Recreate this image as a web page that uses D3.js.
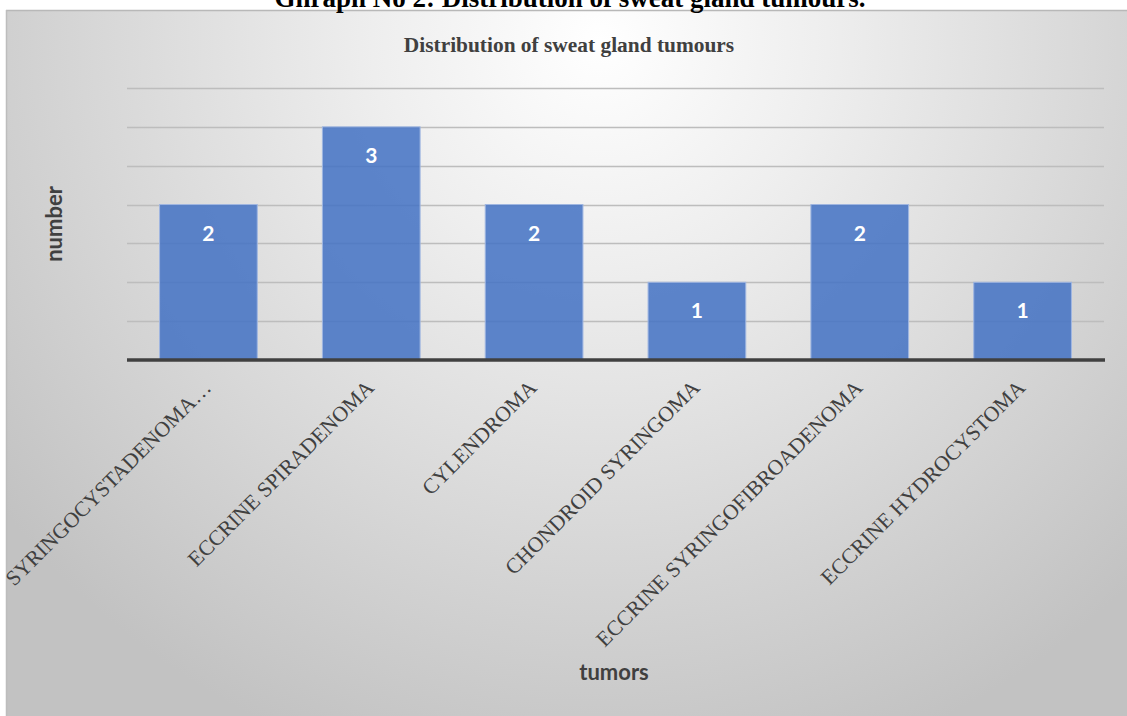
<!DOCTYPE html>
<html>
<head>
<meta charset="utf-8">
<script src="https://cdn.jsdelivr.net/npm/d3@7"></script>
<style>
  html, body { margin: 0; padding: 0; background: #ffffff; }
  svg { display: block; }
</style>
</head>
<body>
<svg id="chart" width="1127" height="716"></svg>
<script>
// ---- data ----
const categories = [
  "SYRINGOCYSTADENOMA…",
  "ECCRINE SPIRADENOMA",
  "CYLENDROMA",
  "CHONDROID SYRINGOMA",
  "ECCRINE SYRINGOFIBROADENOMA",
  "ECCRINE HYDROCYSTOMA"
];
const values = [2, 3, 2, 1, 2, 1];
const gridTicks = [0.5, 1, 1.5, 2, 2.5, 3, 3.5];
const captionText = "Ghraph No 2: Distribution of sweat gland tumours.";
const titleText = "Distribution of sweat gland tumours";
const yTitle = "number";
const xTitle = "tumors";

// ---- drawing ----
const W = 1127, H = 716;
const svg = d3.select("#chart");
const defs = svg.append("defs");
const grad = defs.append("radialGradient")
  .attr("id", "bg").attr("gradientUnits", "userSpaceOnUse")
  .attr("cx", 600).attr("cy", 40).attr("r", 760);
grad.append("stop").attr("offset", "0%").attr("stop-color", "#ffffff");
grad.append("stop").attr("offset", "30%").attr("stop-color", "#eeeeee");
grad.append("stop").attr("offset", "100%").attr("stop-color", "#c2c2c2");

// chart box
const box = { x: 6, y: 10, w: W - 6, h: H - 10 };
svg.append("rect").attr("x", box.x).attr("y", box.y)
  .attr("width", box.w).attr("height", box.h).attr("fill", "url(#bg)");
svg.append("line").attr("x1", box.x).attr("x2", W).attr("y1", box.y + 0.5).attr("y2", box.y + 0.5)
  .attr("stroke", "#b8b8b8").attr("stroke-width", 1.5);
svg.append("line").attr("x1", box.x + 0.5).attr("x2", box.x + 0.5).attr("y1", box.y).attr("y2", H)
  .attr("stroke", "#bdbdbd").attr("stroke-width", 1.5);

// caption (cut off at the top, as in the reference)
svg.append("text").attr("x", 570).attr("y", 7)
  .attr("text-anchor", "middle")
  .style("font-family", "'Liberation Serif', 'Times New Roman', serif")
  .style("font-weight", "bold").style("font-size", "27px").attr("fill", "#000")
  .text(captionText);

// chart title
svg.append("text").attr("x", 569).attr("y", 52)
  .attr("text-anchor", "middle")
  .style("font-family", "'Liberation Serif', 'Times New Roman', serif")
  .style("font-weight", "bold").style("font-size", "21.4px").attr("fill", "#404040")
  .text(titleText);

const x = d3.scaleBand().domain(categories).range([127, 1104])
  .paddingInner(0.4).paddingOuter(0.2);
const y = d3.scaleLinear().domain([0, 3.5]).range([360, 88]);

// gridlines
svg.append("g").selectAll("line").data(gridTicks).join("line")
  .attr("x1", 127).attr("x2", 1104)
  .attr("y1", d => Math.round(y(d)) + 0.5).attr("y2", d => Math.round(y(d)) + 0.5)
  .attr("stroke", "#bdbdbd").attr("stroke-width", 1.3);

// bars
svg.append("g").selectAll("rect").data(values).join("rect")
  .attr("x", (d, i) => x(categories[i]))
  .attr("y", d => y(d))
  .attr("width", x.bandwidth())
  .attr("height", d => y(0) - y(d))
  .attr("fill", "#4472c4").attr("fill-opacity", 0.86)
  .attr("stroke", "#9fb6e2").attr("stroke-width", 1);

// data labels
svg.append("g").selectAll("text").data(values).join("text")
  .attr("x", (d, i) => x(categories[i]) + x.bandwidth() / 2)
  .attr("y", d => y(d) + 36)
  .attr("text-anchor", "middle")
  .style("font-family", "Lato, 'Open Sans', sans-serif")
  .style("font-weight", "bold").style("font-size", "21px").attr("fill", "#ffffff")
  .text(d => d);

// x axis baseline and tick labels
const xAxis = d3.axisBottom(x).tickSize(0).tickPadding(0);
const gx = svg.append("g").attr("transform", "translate(0,360)").call(xAxis);
gx.select(".domain").attr("stroke", "#404040").attr("stroke-width", 3.5)
  .attr("d", "M127,0H1105");
gx.selectAll(".tick text")
  .attr("text-anchor", "end")
  .attr("dy", null).attr("y", null)
  .attr("transform", "translate(4,29) rotate(-45)")
  .style("font-family", "'Liberation Serif', 'Times New Roman', serif")
  .style("font-size", "21.5px").attr("fill", "#404040");

// axis titles
svg.append("text")
  .attr("transform", "translate(62,224) rotate(-90)")
  .attr("text-anchor", "middle")
  .style("font-family", "Lato, 'Open Sans', sans-serif")
  .style("font-weight", "bold").style("font-size", "22px").attr("fill", "#404040")
  .text(yTitle);
svg.append("text").attr("x", 614).attr("y", 680)
  .attr("text-anchor", "middle")
  .style("font-family", "Lato, 'Open Sans', sans-serif")
  .style("font-weight", "bold").style("font-size", "22px").attr("fill", "#404040")
  .text(xTitle);
</script>
</body>
</html>
